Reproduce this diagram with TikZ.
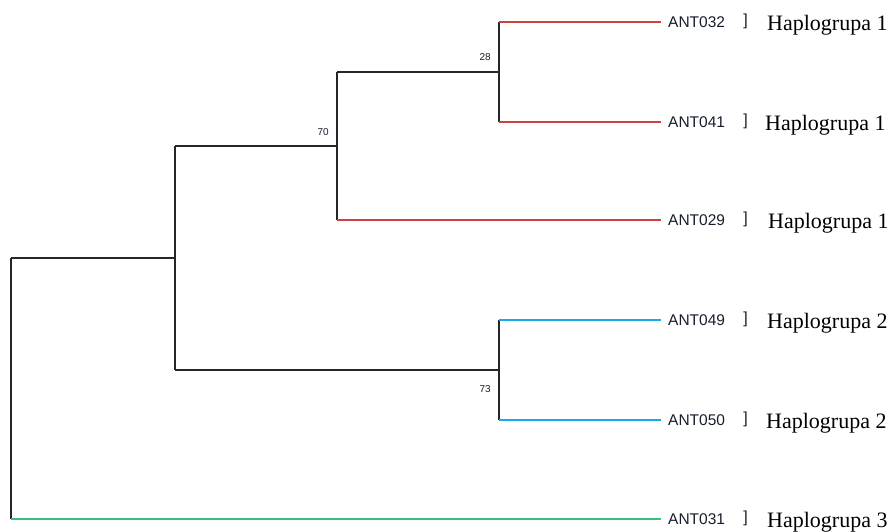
\documentclass[tikz,border=0pt]{standalone}
\usepackage{fontspec}
\setmainfont{Liberation Serif}
\newfontfamily\labfont{Liberation Sans}
\definecolor{hredc}{RGB}{205,65,65}
\definecolor{hbluec}{RGB}{25,170,230}
\definecolor{hgreenc}{RGB}{55,195,115}
\definecolor{txtc}{RGB}{25,30,45}
\begin{document}
\begin{tikzpicture}[x=1pt,y=-1pt,
  branch/.style={line width=1.1pt,draw=black!85},
  leafname/.style={anchor=west,inner xsep=7pt,inner ysep=0pt,text=txtc,font=\labfont\fontsize{15.5}{15.5}\selectfont},
  brack/.style={inner sep=0pt,text=txtc,font=\labfont\fontsize{16}{16}\selectfont},
  hap/.style={anchor=base west,inner sep=0pt,font=\fontsize{22}{22}\selectfont},
  boot/.style={anchor=base east,inner sep=0pt,text=txtc,font=\labfont\fontsize{10}{10}\selectfont}]
\useasboundingbox[fill=white] (0,0) rectangle (895,531);
% internal nodes (midpoints of verticals)
\coordinate (root) at (11,388.5);
\coordinate (nR) at (175,258);
\coordinate (n70) at (337,146);
\coordinate (n28) at (499,72);
\coordinate (n73) at (499,370);
% leaves
\node[leafname] (l032) at (661,22) {ANT032};
\node[leafname] (l041) at (661,122) {ANT041};
\node[leafname] (l029) at (661,220) {ANT029};
\node[leafname] (l049) at (661,320) {ANT049};
\node[leafname] (l050) at (661,420) {ANT050};
\node[leafname] (l031) at (661,519) {ANT031};
% verticals
\draw[branch] (root |- nR) -- (root |- l031);
\draw[branch] (nR |- n70) -- (nR |- n73);
\draw[branch] (n70 |- n28) -- (n70 |- l029);
\draw[branch] (n28 |- l032) -- (n28 |- l041);
\draw[branch] (n73 |- l049) -- (n73 |- l050);
% internal horizontals
\draw[branch] (root |- nR) -- (nR);
\draw[branch] (nR |- n70) -- (n70);
\draw[branch] (nR |- n73) -- (n73);
\draw[branch] (n70 |- n28) -- (n28);
% leaf horizontals
\draw[branch,draw=hredc] (n28 |- l032) -- (l032.west);
\draw[branch,draw=hredc] (n28 |- l041) -- (l041.west);
\draw[branch,draw=hredc] (n70 |- l029) -- (l029.west);
\draw[branch,draw=hbluec] (n73 |- l049) -- (l049.west);
\draw[branch,draw=hbluec] (n73 |- l050) -- (l050.west);
\draw[branch,draw=hgreenc] (root |- l031) -- (l031.west);
% bootstrap values
\node[boot] (b28) at (491,60) {28};
\node[boot] (b70) at (329,135) {70};
\node[boot] (b73) at (491,392.5) {73};
% brackets
\node[brack] (k032) at (745.5,21.5) {]};
\node[brack] (k041) at (745.5,121) {]};
\node[brack] (k029) at (745.5,219.5) {]};
\node[brack] (k049) at (745.5,319.5) {]};
\node[brack] (k050) at (745.5,419.5) {]};
\node[brack] (k031) at (745.5,518.5) {]};
% haplogroups
\node[hap] (h032) at (767,30.7) {Haplogrupa 1};
\node[hap] (h041) at (765,130.5) {Haplogrupa 1};
\node[hap] (h029) at (768,228.7) {Haplogrupa 1};
\node[hap] (h049) at (767,328.7) {Haplogrupa 2};
\node[hap] (h050) at (766,428.7) {Haplogrupa 2};
\node[hap] (h031) at (767,527.7) {Haplogrupa 3};
\end{tikzpicture}
\end{document}
